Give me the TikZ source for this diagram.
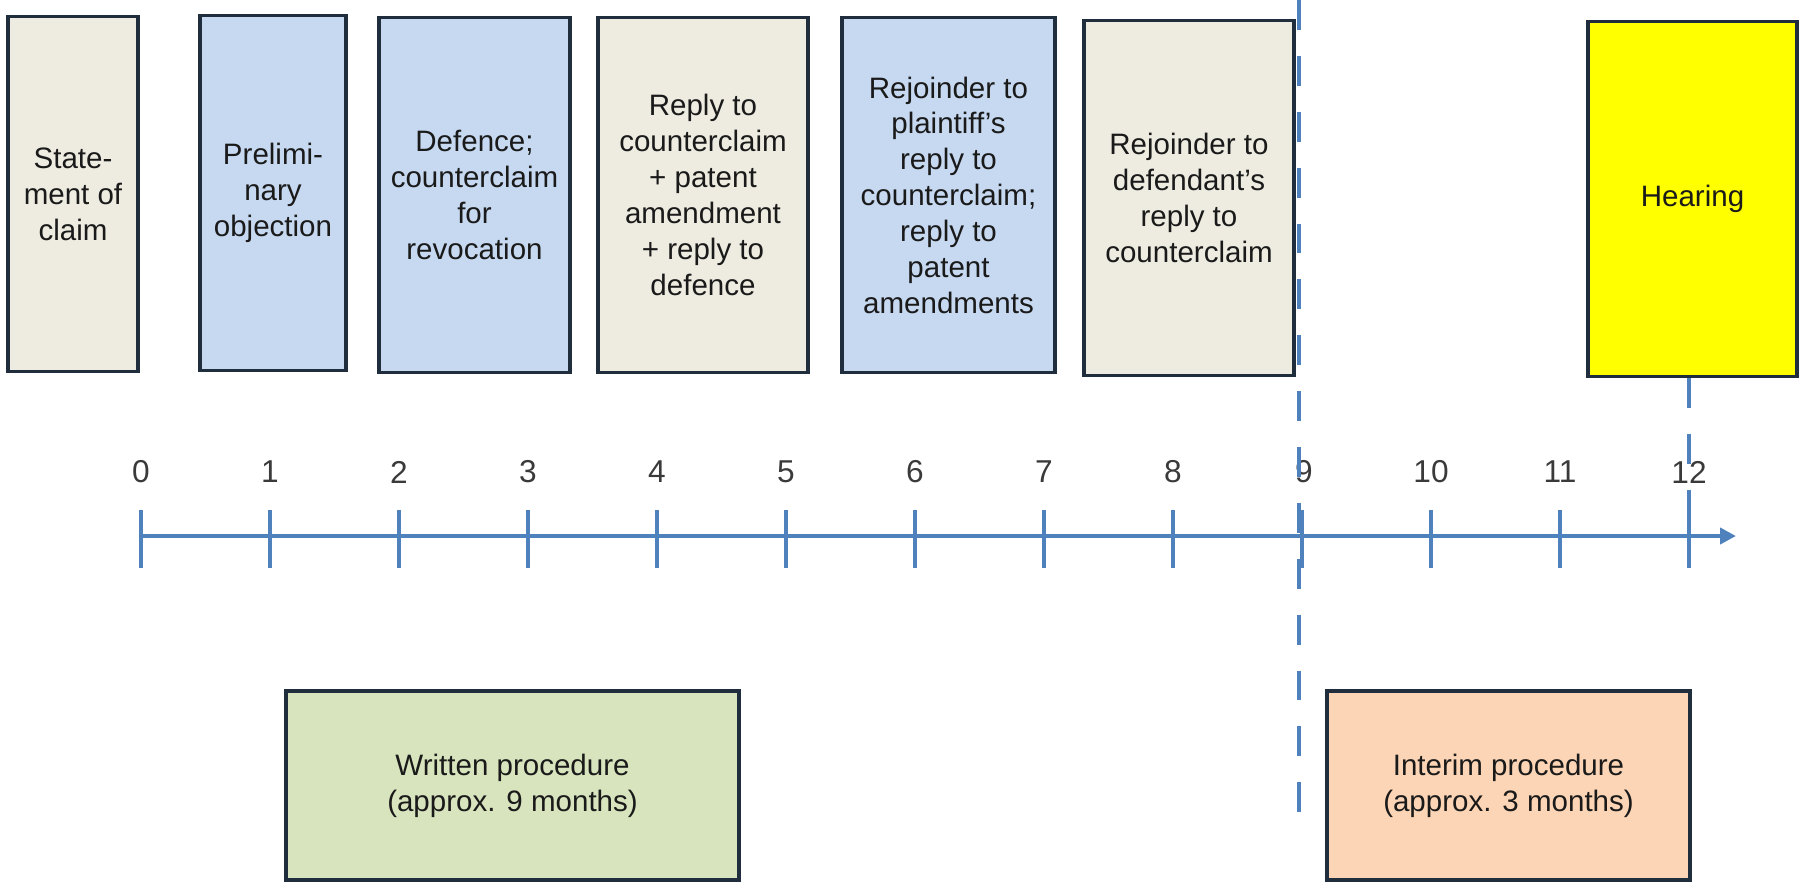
\documentclass[tikz,border=0pt]{standalone}
\usepackage{fontspec}
\setmainfont{Liberation Sans}
\usetikzlibrary{arrows.meta}
\definecolor{edge}{HTML}{1F2D3D}
\definecolor{ink}{HTML}{1A1A1A}
\definecolor{numgray}{HTML}{3A3A3A}
\definecolor{axisblue}{HTML}{4F81BD}
\definecolor{beige}{HTML}{EEECE1}
\definecolor{lightblue}{HTML}{C6D9F1}
\definecolor{sage}{HTML}{D7E4BD}
\definecolor{peach}{HTML}{FBD5B5}
\definecolor{hearyellow}{HTML}{FFFF00}
\begin{document}
\begin{tikzpicture}[x=0.1mm,y=-0.1mm,
  box/.style={draw=edge,line width=1.1pt,inner sep=0pt,align=center,text=ink,
    font=\fontsize{8.4}{10.2}\selectfont},
  tall/.style={box,minimum height=35.5mm},
  tick/.style={draw=axisblue,line width=1.1pt},
  num/.style={text=numgray,font=\fontsize{9}{10}\selectfont},
  cut/.style={draw=axisblue,line width=1.4pt,dash pattern=on 8.5pt off 7.4pt}]
\useasboundingbox (0,0) rectangle (1807,887);

% documents
\node[tall,fill=beige,minimum width=13mm] (claim) at (73,194) {State-\\ment of\\claim};
\node[tall,fill=lightblue,minimum width=14.6mm] (objection) at (273,193) {Prelimi-\\nary\\objection};
\node[tall,fill=lightblue,minimum width=19.1mm] (defence) at (474.5,195) {Defence;\\counterclaim\\for\\revocation};
\node[tall,fill=beige,minimum width=21mm] (reply) at (703,195) {Reply to\\counterclaim\\+ patent\\amendment\\+ reply to\\defence};
\node[tall,fill=lightblue,minimum width=21.3mm] (rejplain) at (948.5,195) {Rejoinder to\\plaintiff's\\reply to\\counterclaim;\\reply to\\patent\\amendments};
\node[tall,fill=beige,minimum width=21mm] (rejdef) at (1189,198) {Rejoinder to\\defendant's\\reply to\\counterclaim};
\node[tall,fill=hearyellow,minimum width=20.9mm] (hearing) at (1692.5,199) {Hearing};

% procedures
\node[box,fill=sage,minimum width=45.3mm,minimum height=18.9mm] (written) at (512.5,785.5) {Written procedure\\(approx. 9 months)};
\node[box,fill=peach,minimum width=36.3mm,minimum height=18.9mm] (interim) at (1508.5,785.5) {Interim procedure\\(approx. 3 months)};

% time axis
\coordinate (start) at (141,536);
\coordinate (end) at (1736,536);
\draw[axisblue,line width=1.3pt,-{Triangle[length=4.5pt,width=4.5pt]}] (start) -- (end);

\draw[tick] (141,510) -- (141,568);
\draw[tick] (270,510) -- (270,568);
\draw[tick] (399,510) -- (399,568);
\draw[tick] (528,510) -- (528,568);
\draw[tick] (657,510) -- (657,568);
\draw[tick] (786,510) -- (786,568);
\draw[tick] (915,510) -- (915,568);
\draw[tick] (1044,510) -- (1044,568);
\draw[tick] (1173,510) -- (1173,568);
\draw[tick] (1302,510) -- (1302,568);
\draw[tick] (1431,510) -- (1431,568);
\draw[tick] (1560,510) -- (1560,568);
\draw[tick] (1689,510) -- (1689,568);

\node[num] (m0) at (141,472) {0};
\node[num] (m1) at (270,472) {1};
\node[num] (m2) at (399,472) {2};
\node[num] (m3) at (528,472) {3};
\node[num] (m4) at (657,472) {4};
\node[num] (m5) at (786,472) {5};
\node[num] (m6) at (915,472) {6};
\node[num] (m7) at (1044,472) {7};
\node[num] (m8) at (1173,472) {8};
\node[num] (m9) at (1304,472) {9};
\node[num] (m10) at (1431,472) {10};
\node[num] (m11) at (1560,472) {11};
\node[num] (m12) at (1689,472) {12};

% end of written procedure
\coordinate (cuttop) at (1299,0);
\coordinate (cutbot) at (1299,815);
\draw[cut] (cuttop) -- (cutbot);

% hearing at month 12
\coordinate (t12) at (1689,568);
\draw[cut] (hearing.south -| t12) -- (t12);
\end{tikzpicture}
\end{document}
